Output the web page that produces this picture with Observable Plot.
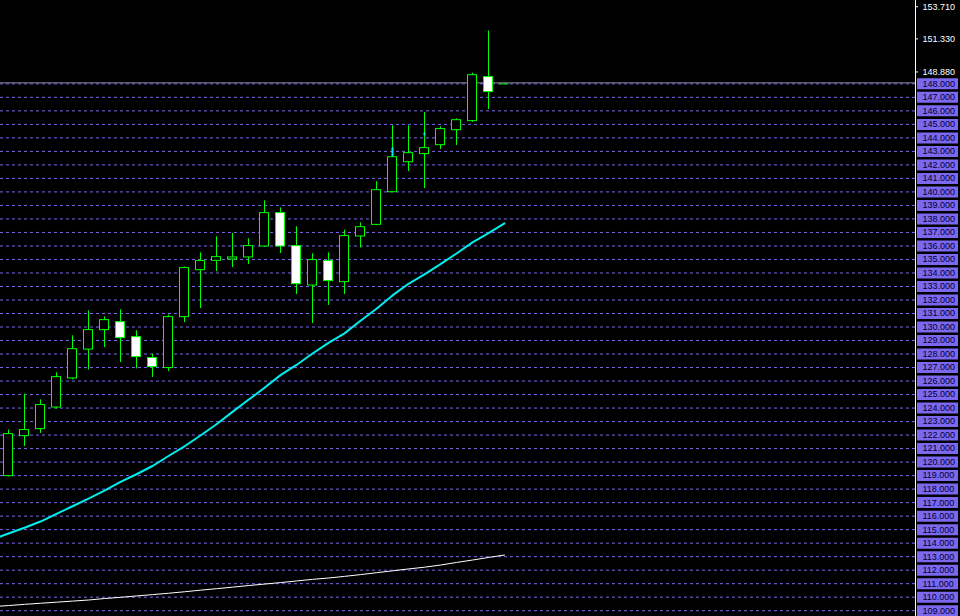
<!DOCTYPE html>
<html>
<head>
<meta charset="utf-8">
<script src="https://cdn.jsdelivr.net/npm/d3@7"></script>
<script src="https://cdn.jsdelivr.net/npm/@observablehq/plot@0.6"></script>
<style>
  html, body { margin: 0; padding: 0; background: #000; }
  #chart { width: 960px; height: 616px; overflow: hidden; }
</style>
</head>
<body>
<div id="chart"></div>
<script>
// Candle positions (bar index) and OHLC values
const bars   = [0,1,2,3,4,5,6,7,8,9,10,11,12,13,14,15,16,17,18,19,20,21,22,23,24,25,26,27,28,29,30,31];
const opens  = [118.96,121.92,122.44,124.04,126.19,128.33,129.77,130.36,129.25,127.70,126.96,130.73,134.21,134.90,135.00,135.15,135.96,138.43,135.99,133.07,134.88,133.32,136.70,137.56,139.98,142.20,142.80,143.46,144.57,145.24,148.50,148.00];
const highs  = [122.37,125.03,124.61,126.61,129.35,131.20,130.75,131.27,129.72,128.00,130.88,134.45,135.49,136.68,136.92,136.53,139.34,138.82,137.42,135.42,135.49,137.17,137.71,140.75,144.89,144.89,145.88,144.82,145.41,148.79,151.92,148.00];
const lows   = [118.90,121.15,122.12,123.92,126.09,126.81,128.48,127.37,126.90,126.26,126.70,130.33,131.37,134.11,134.40,134.62,135.90,135.44,132.40,130.26,131.59,132.40,135.86,137.50,139.95,141.51,140.25,143.14,143.43,145.14,146.10,148.00];
const closes = [122.07,122.37,124.22,126.29,128.36,129.77,130.51,129.18,127.77,127.03,130.73,134.36,134.88,135.17,135.15,135.99,138.43,135.96,133.17,134.95,133.40,136.73,137.39,140.13,142.57,142.87,143.24,144.65,145.31,148.64,147.39,148.00];

// Moving averages (bar index -1 .. 31)
const maBars  = [-1,0,1,2,3,4,5,6,7,8,9,10,11,12,13,14,15,16,17,18,19,20,21,22,23,24,25,26,27,28,29,30,31];
const fastMA  = [114.28,114.71,115.14,115.60,116.16,116.73,117.30,117.89,118.54,119.10,119.71,120.45,121.17,121.97,122.80,123.72,124.61,125.50,126.44,127.19,128.04,128.83,129.53,130.46,131.35,132.34,133.20,133.90,134.65,135.44,136.27,136.95,137.67];
const slowMA  = [109.30,109.38,109.47,109.55,109.63,109.71,109.79,109.90,109.99,110.09,110.19,110.29,110.40,110.52,110.63,110.74,110.86,110.97,111.08,111.20,111.32,111.42,111.54,111.67,111.81,111.95,112.09,112.22,112.38,112.57,112.75,112.94,113.12];

// Small cyan indicator marks
const markBars = [24, 26];
const markLow  = [142.60, 144.15];
const markHigh = [143.26, 144.37];

// Price axis labels
const gridLevels = [109,110,111,112,113,114,115,116,117,118,119,120,121,122,123,124,125,126,127,128,129,130,131,132,133,134,135,136,137,138,139,140,141,142,143,144,145,146,147,148];
const scaleLabels = [153.71, 151.33, 148.88];
const bidPrice = 148.0;

const candles = bars.map((b, k) => ({i: b, o: opens[k], h: highs[k], l: lows[k], c: closes[k]}));
const bulls = candles.filter(d => d.c > d.o);
const bears = candles.filter(d => d.c < d.o);
const dojis = candles.filter(d => d.c === d.o);
const fast = maBars.map((b, k) => ({i: b, v: fastMA[k]}));
const slow = maBars.map((b, k) => ({i: b, v: slowMA[k]}));
const marksData = markBars.map((b, k) => ({i: b, lo: markLow[k], hi: markHigh[k]}));

const HW = 0.28125; // half body width in bar units
const GREEN = "#00ff00";
const XMAX = 56.6875;

const chart = Plot.plot({
  width: 960,
  height: 616,
  marginLeft: 0,
  marginRight: 45,
  marginTop: 0,
  marginBottom: 0,
  x: {domain: [-0.5, XMAX], axis: null},
  y: {domain: [108.57, 154.17], axis: null},
  style: {background: "#000", overflow: "visible"},
  marks: [
    Plot.ruleY(gridLevels, {stroke: "#7b68ee", strokeDasharray: "3,3"}),
    Plot.ruleY([bidPrice], {stroke: "#8c8ca0", dy: -1}),
    Plot.line(slow, {x: "i", y: "v", stroke: "#ffffff", strokeWidth: 1, clip: true, curve: "linear"}),
    Plot.line(fast, {x: "i", y: "v", stroke: "#00eeee", strokeWidth: 2, clip: true, curve: "linear"}),
    Plot.ruleX(candles, {x: "i", y1: "l", y2: "h", stroke: GREEN}),
    Plot.rect(bulls, {x1: d => d.i - HW, x2: d => d.i + HW, y1: "o", y2: "c", fill: "#000", stroke: GREEN}),
    Plot.rect(bears, {x1: d => d.i - HW, x2: d => d.i + HW, y1: "o", y2: "c", fill: "#fff", stroke: GREEN}),
    Plot.ruleY(dojis, {y: "c", x1: d => d.i - HW, x2: d => d.i + HW, stroke: GREEN}),
    Plot.ruleX(marksData, {x: "i", y1: "lo", y2: "hi", stroke: "#00eeee", strokeWidth: 2}),
    Plot.ruleX([XMAX], {stroke: "#fff"}),
    Plot.ruleY(scaleLabels, {stroke: "#fff", insetLeft: 915, insetRight: -3}),
    Plot.text(scaleLabels, {y: d => d, text: d => d3.format(".3f")(d), frameAnchor: "right", dx: 7, textAnchor: "start", fill: "#fff", fontSize: 9, fontFamily: "Liberation Sans, Arial, sans-serif"}),
    Plot.ruleY(gridLevels, {stroke: "#7b68ee", strokeWidth: 11, insetLeft: 917, insetRight: -43}),
    Plot.text(gridLevels, {y: d => d, text: d => d3.format(".3f")(d), frameAnchor: "right", dx: 7, textAnchor: "start", fill: "#000033", fontSize: 9, fontFamily: "Liberation Sans, Arial, sans-serif"})
  ]
});
document.getElementById("chart").appendChild(chart);
</script>
</body>
</html>
